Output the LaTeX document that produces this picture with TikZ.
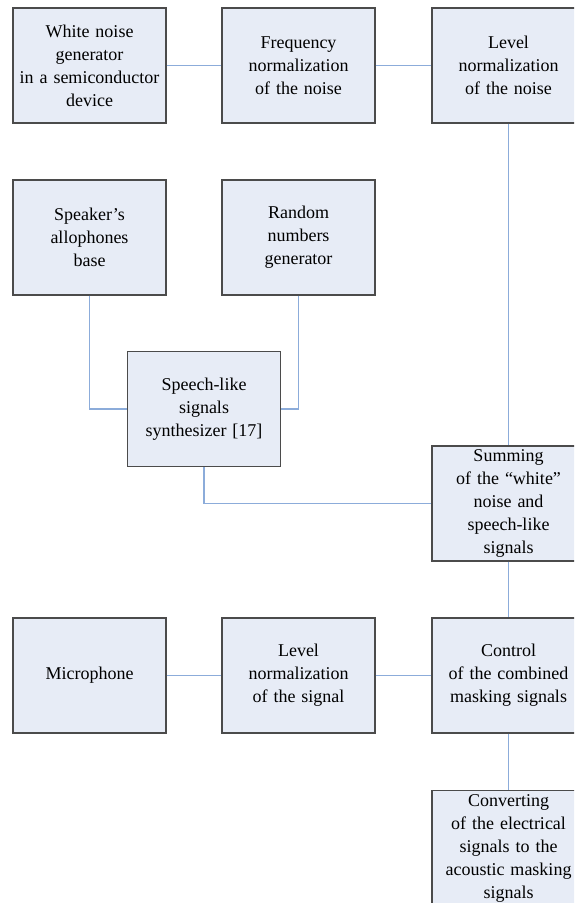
\documentclass[tikz,border=0pt]{standalone}
\usepackage{fontspec}
\setmainfont{Liberation Serif}
\usetikzlibrary{positioning}
\definecolor{boxfill}{RGB}{231,236,246}
\definecolor{boxline}{RGB}{75,75,75}
\definecolor{wireblue}{RGB}{140,172,218}

\begin{document}
\begin{tikzpicture}[x=1pt, y=-1pt,
    blockbox/.style={draw=boxline, fill=boxfill, line width=1.3pt,
        minimum width=153pt, minimum height=115pt, inner sep=0pt,
        text width=152pt, align=center,
        font=\fontsize{18}{23}\selectfont},
    wire/.style={draw=wireblue, line width=1.7pt}]
    \useasboundingbox (0,0) rectangle (574,903);
    \clip (0,0) rectangle (574,903);

    % Noise branch
    \node[blockbox] (whitegen) at (89.5,65.5) {White noise\\generator\\in a semiconductor\\device};
    \node[blockbox] (freqnorm) at (298.5,65.5) {Frequency\\normalization\\of the noise};
    \node[blockbox] (levnoise) at (508.5,65.5) {Level\\normalization\\of the noise};

    % Speech-like branch
    \node[blockbox] (allobase) at (89.5,237.5) {Speaker’s\\allophones\\base};
    \node[blockbox] (randgen) at (298.5,237.5) {Random\\numbers\\generator};
    \node[blockbox] (synth) at (204,409) {Speech-like\\signals\\synthesizer [17]};

    % Summing and control
    \node[blockbox] (summing) at (508.5,503.5) {Summing\\of the “white”\\noise and\\speech-like\\signals};
    \node[blockbox] (micro) at (89.5,675.5) {Microphone};
    \node[blockbox] (levsig) at (298.5,675.5) {Level\\normalization\\of the signal};
    \node[blockbox] (control) at (508.5,675.5) {Control\\of the combined\\masking signals};
    \node[blockbox] (convert) at (508.5,848) {Converting\\of the electrical\\signals to the\\acoustic masking\\signals};

    % Connectors
    \draw[wire] (whitegen) -- (freqnorm);
    \draw[wire] (freqnorm) -- (levnoise);
    \draw[wire] (levnoise) -- (summing);
    \draw[wire] (allobase.south) |- (synth.west);
    \draw[wire] (randgen.south) |- (synth.east);
    \draw[wire] (synth.south) |- (summing.west);
    \draw[wire] (summing) -- (control);
    \draw[wire] (micro) -- (levsig);
    \draw[wire] (levsig) -- (control);
    \draw[wire] (control) -- (convert);
\end{tikzpicture}
\end{document}
